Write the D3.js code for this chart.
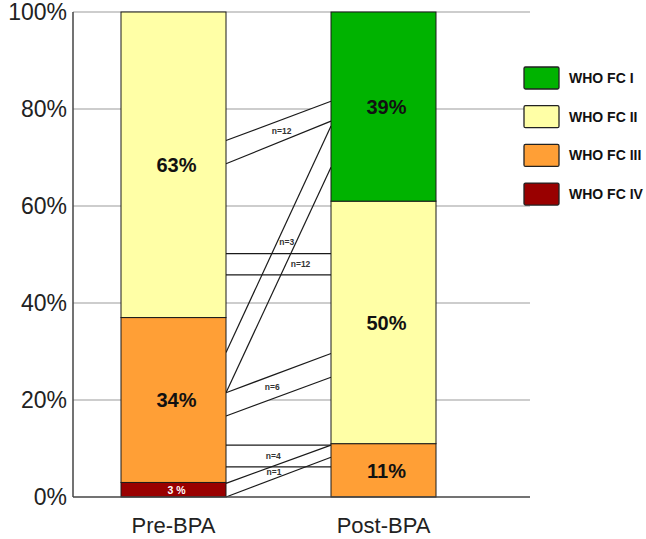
<!DOCTYPE html>
<html>
<head>
<meta charset="utf-8">
<script src="https://cdn.jsdelivr.net/npm/d3@7"></script>
<style>
  html, body { margin: 0; padding: 0; background: #fff; }
  svg { display: block; font-family: "Liberation Sans", Arial, sans-serif; }
</style>
</head>
<body>
<svg id="chart" width="646" height="539"></svg>
<script>
// ---------- data ----------
const categories = ["Pre-BPA", "Post-BPA"];
const classes = ["WHO FC I", "WHO FC II", "WHO FC III", "WHO FC IV"];
const preValues = [0, 63, 34, 3];
const postValues = [39, 50, 11, 0];
const yTicks = [0, 20, 40, 60, 80, 100];

// patient flows between the two bars (percent positions on each side)
const flowLabels = ["n=12", "n=3", "n=12", "n=6", "n=4", "n=1"];
const flowPreTop = [73.5, 29.8, 50.2, 21.5, 10.7, 2.8];
const flowPreBottom = [68.7, 21.5, 45.8, 16.7, 6.2, 0];
const flowPostTop = [81.6, 76.5, 50.2, 29.6, 10.7, 10.7];
const flowPostBottom = [77.5, 68.0, 45.8, 24.7, 6.2, 8.2];

// ---------- layout / style ----------
const colors = { "WHO FC I": "#00b300", "WHO FC II": "#ffffa6", "WHO FC III": "#ff9f36", "WHO FC IV": "#990000" };
const labelAlong = [0.53, 0.578, 0.71, 0.44, 0.45, 0.457];
const bandFilled = [true, false, true, true, true, true];
const plotLeft = 73, plotRight = 530;

const svg = d3.select("#chart");

const x = d3.scaleBand().domain(categories).range([68.5, 488.5])
  .paddingInner(0.5).paddingOuter(0.25);
const y = d3.scaleLinear().domain([0, 100]).range([497, 12]);

// gridlines
svg.append("g").selectAll("line").data(yTicks.filter(d => d > 0)).join("line")
  .attr("x1", plotLeft).attr("x2", plotRight)
  .attr("y1", d => y(d)).attr("y2", d => y(d))
  .attr("stroke", "#bdbdbd").attr("stroke-width", 1.5);

// y tick labels
svg.append("g").selectAll("text").data(yTicks).join("text")
  .attr("x", 67).attr("y", d => y(d))
  .attr("dy", "0.36em")
  .attr("text-anchor", "end")
  .attr("font-size", 23)
  .attr("fill", "#222")
  .text(d => d + "%");

// flows
const preRight = x("Pre-BPA") + x.bandwidth();
const postLeft = x("Post-BPA");
const flows = flowLabels.map((lab, i) => ({
  lab, i,
  a0: flowPreTop[i], a1: flowPreBottom[i],
  b0: flowPostTop[i], b1: flowPostBottom[i]
}));

const flowG = svg.append("g");
flows.forEach(f => {
  if (bandFilled[f.i]) {
    flowG.append("path")
      .attr("d", `M${preRight},${y(f.a0)}L${postLeft},${y(f.b0)}L${postLeft},${y(f.b1)}L${preRight},${y(f.a1)}Z`)
      .attr("fill", "#fff").attr("stroke", "none");
  }
});
flows.forEach(f => {
  [[f.a0, f.b0], [f.a1, f.b1]].forEach(([a, b]) => {
    flowG.append("line")
      .attr("x1", preRight).attr("y1", y(a))
      .attr("x2", postLeft).attr("y2", y(b))
      .attr("stroke", "#1a1a1a").attr("stroke-width", 1.2);
  });
  const t = labelAlong[f.i];
  const lx = preRight + t * (postLeft - preRight);
  const top = y(f.a0) + t * (y(f.b0) - y(f.a0));
  const bot = y(f.a1) + t * (y(f.b1) - y(f.a1));
  flowG.append("text")
    .attr("x", lx).attr("y", (top + bot) / 2)
    .attr("dy", "0.36em")
    .attr("text-anchor", "middle")
    .attr("font-size", 8.5).attr("font-weight", "bold")
    .attr("fill", "#333")
    .text(f.lab);
});

// stacked bars
const rows = categories.map((c, ci) => {
  const vals = ci === 0 ? preValues : postValues;
  const o = { category: c };
  classes.forEach((k, ki) => o[k] = vals[ki]);
  return o;
});
const stackKeys = classes.slice().reverse();
const series = d3.stack().keys(stackKeys)(rows);

const barG = svg.append("g");
series.forEach(s => {
  s.forEach(d => {
    const v = d[1] - d[0];
    if (v <= 0) return;
    barG.append("rect")
      .attr("x", x(d.data.category))
      .attr("y", y(d[1]))
      .attr("width", x.bandwidth())
      .attr("height", y(d[0]) - y(d[1]))
      .attr("fill", colors[s.key])
      .attr("stroke", "#1a1a1a").attr("stroke-width", 1);
  });
});
series.forEach(s => {
  s.forEach(d => {
    const v = d[1] - d[0];
    if (v <= 0) return;
    const small = v < 5;
    barG.append("text")
      .attr("x", x(d.data.category) + x.bandwidth() / 2 + 3)
      .attr("y", y((d[0] + d[1]) / 2))
      .attr("dy", small ? "0.4em" : "0.36em")
      .attr("text-anchor", "middle")
      .attr("font-size", small ? 10.5 : 20)
      .attr("font-weight", "bold")
      .attr("fill", small ? "#fff" : "#111")
      .text(small ? v + " %" : v + "%");
  });
});

// axes lines
svg.append("line").attr("x1", plotLeft).attr("x2", plotLeft)
  .attr("y1", y(100)).attr("y2", y(0))
  .attr("stroke", "#444").attr("stroke-width", 1.5);
svg.append("line").attr("x1", plotLeft).attr("x2", plotRight)
  .attr("y1", y(0)).attr("y2", y(0))
  .attr("stroke", "#444").attr("stroke-width", 1.5);

// x labels
svg.append("g").selectAll("text").data(categories).join("text")
  .attr("x", d => x(d) + x.bandwidth() / 2)
  .attr("y", 533)
  .attr("text-anchor", "middle")
  .attr("font-size", 22)
  .attr("fill", "#222")
  .text(d => d);

// legend
const leg = svg.append("g");
classes.forEach((k, i) => {
  const gy = 67 + i * 38.7;
  leg.append("rect")
    .attr("x", 524).attr("y", gy).attr("width", 35).attr("height", 22)
    .attr("rx", 1.5)
    .attr("fill", colors[k]).attr("stroke", "#222").attr("stroke-width", 1.3);
  leg.append("text")
    .attr("x", 569).attr("y", gy + 11).attr("dy", "0.36em")
    .attr("font-size", 14).attr("font-weight", "bold").attr("fill", "#111")
    .text(k);
});
</script>
</body>
</html>
